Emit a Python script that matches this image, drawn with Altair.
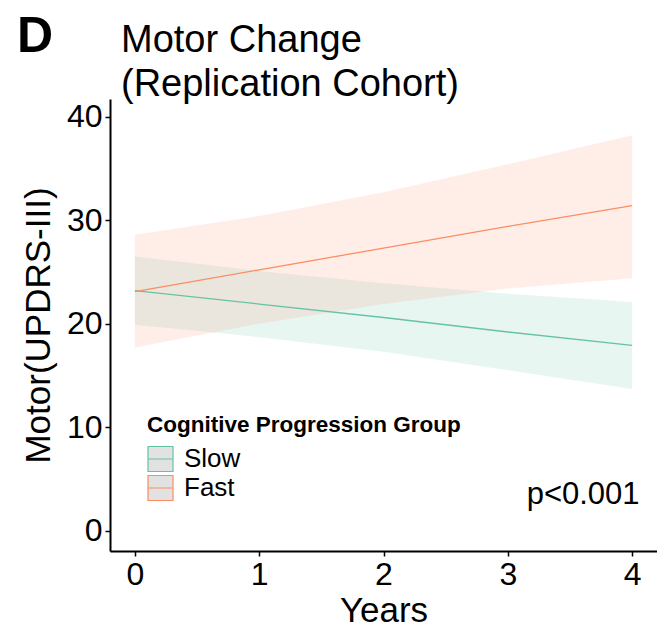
import altair as alt
import pandas as pd

years = [0, 1, 2, 3, 4]
groups = ["Slow", "Fast"]
colors = ["#66C2A5", "#FC8D62"]

slow_fit = [23.2, 21.9, 20.6, 19.2, 17.9]
slow_low = [19.9, 18.7, 17.3, 15.5, 13.7]
slow_high = [26.5, 25.1, 23.9, 22.9, 22.1]

fast_fit = [23.1, 25.2, 27.3, 29.4, 31.4]
fast_low = [17.7, 20.0, 21.9, 23.4, 24.4]
fast_high = [28.6, 30.4, 32.7, 35.4, 38.2]

title_lines = ["Motor Change", "(Replication Cohort)"]
panel_tag = "D"

rows = []
for g, c, fit, lo, hi in [("Slow", colors[0], slow_fit, slow_low, slow_high),
                          ("Fast", colors[1], fast_fit, fast_low, fast_high)]:
    for t, f, l, h in zip(years, fit, lo, hi):
        rows.append({"Years": t, "Group": g, "col": c, "fit": f, "lower": l, "upper": h})
df = pd.DataFrame(rows)

FONT = "Liberation Sans"

color_scale = alt.Scale(domain=groups, range=colors)
xs = alt.Scale(domain=[-0.2, 4.2], nice=False, zero=False)
ys = alt.Scale(domain=[-1.95, 41.7], nice=False, zero=False)

band = alt.Chart(df).mark_area(opacity=0.15).encode(
    x=alt.X("Years:Q", scale=xs),
    y=alt.Y("lower:Q", scale=ys),
    y2="upper:Q",
    fill=alt.Fill("col:N", scale=None),
    detail="Group:N",
)

line = alt.Chart(df).mark_line(strokeWidth=1.3).encode(
    x=alt.X("Years:Q", scale=xs,
            axis=alt.Axis(values=[0, 1, 2, 3, 4], title="Years", format="d")),
    y=alt.Y("fit:Q", scale=ys,
            axis=alt.Axis(values=[0, 10, 20, 30, 40], title="Motor(UPDRS-III)")),
    color=alt.Color(
        "Group:N", scale=color_scale,
        legend=alt.Legend(
            title="Cognitive Progression Group",
            orient="none", legendX=37, legendY=315,
            symbolType="M-1,-1H1V1H-1ZM-1,0H1",
            symbolSize=625, symbolFillColor="#E2E2E2",
            symbolStrokeWidth=1.2, symbolOpacity=1,
            titleFontSize=22.5, titleFontWeight="bold", titleFont=FONT,
            titleColor="black", titlePadding=9, titleLimit=500,
            labelFontSize=26, labelFont=FONT, labelColor="black",
            labelOffset=10, rowPadding=-6, labelLimit=300,
        ),
    ),
)

ptext = alt.Chart(pd.DataFrame({"x": [4.06], "y": [2.6], "t": ["p<0.001"]})).mark_text(
    align="right", baseline="alphabetic", fontSize=31, font=FONT, color="black"
).encode(x=alt.X("x:Q", scale=xs), y=alt.Y("y:Q", scale=ys), text="t:N")

dlabel = alt.Chart(pd.DataFrame({"t": [panel_tag]})).mark_text(
    align="left", baseline="alphabetic", fontSize=50,
    font="Liberation Sans Narrow, Liberation Sans",
    fontWeight="bold", color="black"
).encode(x=alt.value(-93), y=alt.value(-47), text="t:N")

t1 = alt.Chart(pd.DataFrame({"t": [title_lines[0]]})).mark_text(
    align="left", baseline="alphabetic", fontSize=38, font=FONT, color="black"
).encode(x=alt.value(11), y=alt.value(-47), text="t:N")

t2 = alt.Chart(pd.DataFrame({"t": [title_lines[1]]})).mark_text(
    align="left", baseline="alphabetic", fontSize=38, font=FONT, color="black"
).encode(x=alt.value(11), y=alt.value(-3), text="t:N")

chart = alt.layer(band, line, ptext, dlabel, t1, t2).properties(
    width=547, height=452,
    autosize=alt.AutoSizeParams(type="none"),
    padding={"left": 102, "top": 91, "right": 0, "bottom": 78},
).configure_view(stroke=None).configure_axis(
    grid=False, domainColor="black", domainWidth=2, tickColor="black",
    tickWidth=1.5, tickSize=5, labelFont=FONT, labelFontSize=32,
    labelColor="black", titleFont=FONT, titleFontSize=35,
    titleFontWeight="normal", titleColor="black", labelPadding=3,
).configure_axisX(titlePadding=3).configure_axisY(titlePadding=10)

chart.save("out.html", embed_options={"renderer": "svg", "actions": False})
